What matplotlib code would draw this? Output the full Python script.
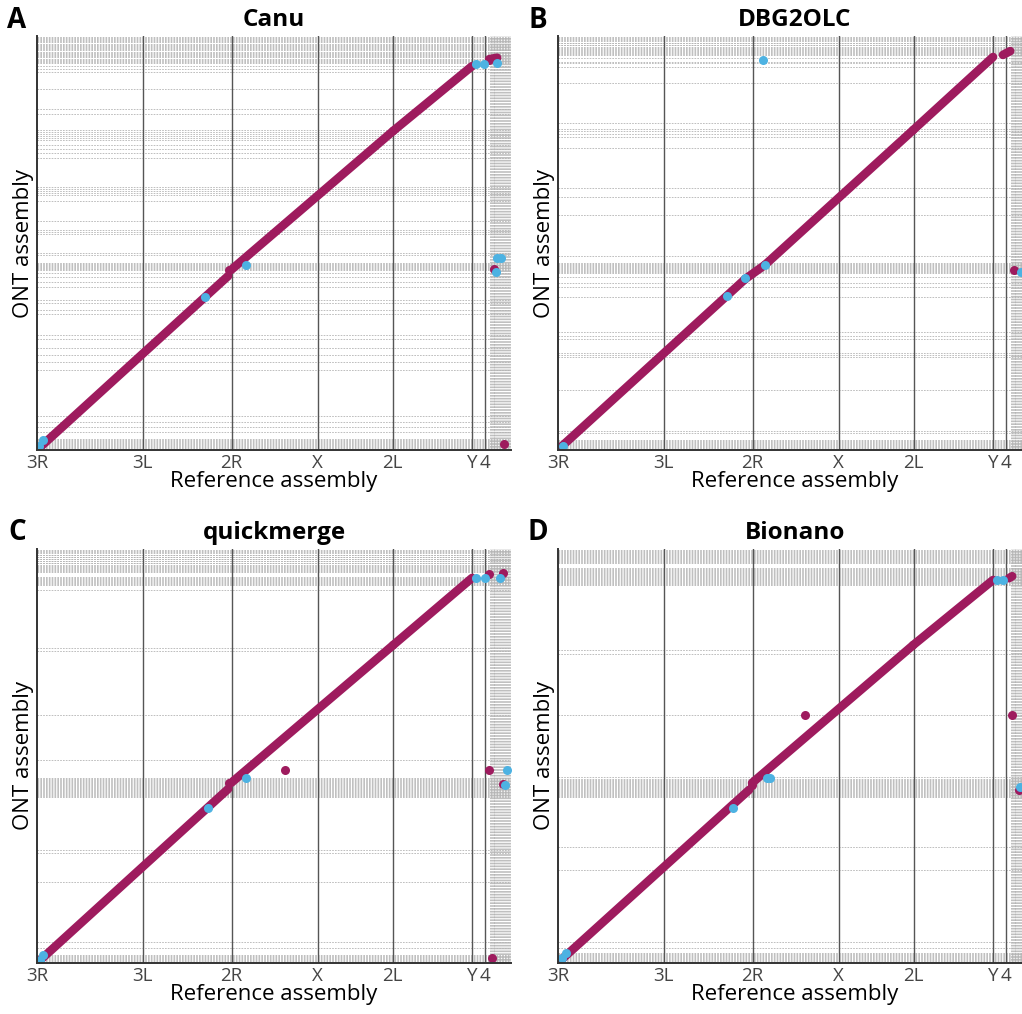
import matplotlib
matplotlib.use("Agg")
import matplotlib.pyplot as plt

plt.rcParams['font.family'] = ['Open Sans', 'DejaVu Sans']

# ---------------- data (Mb) ----------------
chrom_names = ["3R", "3L", "2R", "X", "2L", "Y", "4"]
chrom_lengths = [32.0, 27.0, 26.0, 22.8, 24.0, 3.8, 1.2]
ref_total = 143.6
# unplaced reference contig boundaries
ref_unplaced = [137.1, 137.4, 137.7, 138.0, 138.3, 138.6, 138.9, 139.2, 139.5, 139.8,
                140.1, 140.4, 140.7, 141.0, 141.3, 141.6, 141.9, 142.2, 142.5, 142.8,
                143.1, 143.4]

titles = ["Canu", "DBG2OLC", "quickmerge", "Bionano"]
letters = ["A", "B", "C", "D"]
asm_totals = [143.0, 140.0, 143.0, 143.0]

A_contigs = [134.0, 134.4, 134.8, 135.2, 135.6, 136.0, 136.4, 136.8, 137.2, 137.6, 138.0,
             138.4, 138.8, 139.2, 139.6, 140.0, 140.4, 140.8, 141.2, 141.6, 142.0, 142.4,
             142.8, 133.7, 132.6, 131.6, 130.6, 124.7, 117.8, 116.1, 110.5, 109.8, 109.2,
             108.5, 107.8, 107.1, 105.4, 104.0, 102.6, 100.9, 90.8, 90.2, 89.5, 88.8, 88.1,
             86.0, 79.1, 76.0, 75.3, 74.6, 68.1, 67.4, 64.6, 64.3, 64.0, 63.6, 63.3, 62.9,
             62.6, 62.2, 61.1, 59.8, 58.0, 56.3, 51.8, 50.8, 48.4, 47.0, 39.7, 38.3, 35.2,
             32.8, 30.4, 27.6, 11.7, 9.7, 7.9, 6.2, 3.8, 3.4, 3.1, 2.8, 2.4, 2.1, 1.7, 1.4,
             1.0, 0.7]
B_contigs = [133.6, 134.0, 134.3, 134.7, 135.0, 135.4, 135.7, 136.1, 136.4, 136.8, 137.1,
             137.5, 137.8, 138.2, 138.5, 138.9, 139.2, 139.6, 132.6, 131.2, 130.9, 129.5,
             124.1, 110.6, 108.6, 107.9, 106.9, 105.8, 102.1, 88.6, 85.6, 79.5, 65.6, 63.2,
             62.9, 62.5, 62.2, 61.9, 61.5, 61.2, 60.9, 60.5, 60.2, 59.9, 58.5, 56.5, 55.1,
             51.7, 39.9, 38.6, 37.5, 32.8, 32.1, 31.5, 20.3, 6.4, 5.7, 3.4, 3.0, 2.7, 2.4,
             2.0, 1.7, 1.4, 1.0, 0.7]
C_contigs = [130.6, 131.0, 131.3, 131.7, 132.0, 132.4, 132.7, 133.1, 133.4, 135.2, 135.5,
             135.9, 136.2, 136.6, 136.9, 137.3, 137.6, 138.0, 138.3, 138.7, 139.0, 139.4,
             139.7, 140.1, 140.4, 140.8, 141.1, 141.5, 141.8, 142.2, 142.5, 128.8, 108.8,
             107.8, 85.7, 70.1, 57.3, 57.6, 58.0, 58.3, 58.7, 59.0, 59.4, 59.7, 60.1, 60.4,
             60.8, 61.1, 61.5, 61.8, 62.2, 62.5, 62.9, 63.2, 63.6, 63.9, 39.0, 38.0, 28.0,
             7.3, 5.2, 0.3, 0.7, 1.0, 1.4, 1.7, 2.1, 2.4, 2.8]
D_contigs = [138.2, 138.6, 138.9, 139.3, 139.6, 140.0, 140.3, 140.7, 141.0, 141.4, 141.7,
             142.1, 142.4, 142.7, 130.6, 131.0, 131.3, 131.7, 132.0, 132.4, 132.7, 133.1,
             133.4, 133.8, 134.1, 134.5, 134.8, 135.2, 135.5, 135.9, 136.2, 136.6, 108.1,
             106.7, 85.7, 57.3, 57.6, 58.0, 58.3, 58.7, 59.0, 59.4, 59.7, 60.1, 60.4, 60.8,
             61.1, 61.5, 61.8, 62.2, 62.5, 62.9, 63.2, 63.6, 64.2, 40.1, 32.1, 7.3, 5.2,
             0.3, 0.7, 1.0, 1.4, 1.7, 2.1, 2.4, 2.8, 3.1, 3.5]

# forward alignments (ref start, asm start, ref end, asm end)
A_fwd = [(0.3, 0.3, 57.9, 60.1), (58.8, 62.2, 107.9, 110.2), (107.9, 110.2, 131.8, 132.6),
         (137.0, 135.0, 139.4, 135.5)]
B_fwd = [(0.6, 0.7, 56.7, 57.8), (56.7, 57.8, 62.7, 62.6), (62.7, 62.6, 107.6, 108.2),
         (107.6, 108.2, 131.8, 132.9), (134.8, 133.6, 137.0, 134.9)]
C_fwd = [(0.3, 0.3, 57.9, 60.1), (58.8, 62.2, 107.9, 109.8), (107.9, 109.8, 131.8, 133.0)]
D_fwd = [(0.6, 0.7, 57.9, 59.8), (58.8, 62.2, 107.6, 109.8), (107.6, 109.8, 131.8, 132.3),
         (136.6, 132.9, 137.6, 133.6)]

# isolated forward hits
A_mag_x = [58.2, 138.5, 141.5, 137.0]
A_mag_y = [62.2, 62.5, 2.1, 134.7]
B_mag_x = [138.2]
B_mag_y = [60.9]
C_mag_x = [58.2, 75.2, 137.0, 141.2, 137.0, 141.2, 137.9]
C_mag_y = [62.2, 66.7, 134.4, 134.7, 66.7, 61.8, 1.7]
D_mag_x = [58.8, 74.8, 137.6, 139.7]
D_mag_y = [61.5, 85.7, 85.7, 59.8]

# reverse hits
A_rev_x = [1.8, 0.6, 50.9, 63.3, 133.0, 135.5, 139.4, 139.4, 140.6, 139.1]
A_rev_y = [3.5, 1.4, 52.8, 63.9, 133.3, 133.3, 133.7, 66.3, 66.3, 61.5]
B_rev_x = [1.5, 51.2, 56.7, 62.7, 62.1, 140.3]
B_rev_y = [1.4, 52.1, 58.2, 62.6, 131.9, 60.2]
C_rev_x = [1.8, 0.9, 51.8, 63.3, 133.0, 135.8, 140.3, 142.4, 141.8]
C_rev_y = [2.8, 1.0, 53.5, 63.9, 133.0, 133.0, 133.0, 66.7, 61.5]
D_rev_x = [2.4, 1.2, 53.0, 63.3, 64.2, 133.0, 134.8, 140.0]
D_rev_y = [3.5, 1.7, 53.5, 63.9, 63.9, 132.3, 132.3, 60.8]

contigs = [A_contigs, B_contigs, C_contigs, D_contigs]
fwd = [A_fwd, B_fwd, C_fwd, D_fwd]
mag = [(A_mag_x, A_mag_y), (B_mag_x, B_mag_y), (C_mag_x, C_mag_y), (D_mag_x, D_mag_y)]
rev = [(A_rev_x, A_rev_y), (B_rev_x, B_rev_y), (C_rev_x, C_rev_y), (D_rev_x, D_rev_y)]

MAG = "#9E1B5E"
BLUE = "#4DB2E2"
GRID = "#b4b4b4"
W, H = 1022, 1014

fig = plt.figure(figsize=(W / 100, H / 100), dpi=100)

# axes pixel boxes: left, top, width, height
boxes = [(37, 36, 474, 414), (558, 36, 474, 414), (37, 549, 474, 414), (558, 549, 474, 414)]

starts = []
acc = 0.0
for L in chrom_lengths:
    starts.append(acc)
    acc += L

for i, (l, t, w, h) in enumerate(boxes):
    ax = fig.add_axes([l / W, 1 - (t + h) / H, w / W, h / H])
    ax.set_xlim(0, ref_total)
    ax.set_ylim(0, asm_totals[i])
    for s in ["top", "right"]:
        ax.spines[s].set_visible(False)
    for s in ["left", "bottom"]:
        ax.spines[s].set_color("#333333")
        ax.spines[s].set_linewidth(1.4)
        ax.spines[s].set_zorder(6)

    # assembly contig boundaries
    for yv in contigs[i]:
        ax.axhline(yv, color=GRID, lw=0.6, ls=(0, (2, 1.4)), zorder=1)
    # unplaced reference contigs
    for xv in ref_unplaced:
        ax.axvline(xv, color=GRID, lw=0.6, ls=(0, (2, 1.4)), zorder=1)
    # chromosome boundaries
    for xv in starts[1:]:
        ax.axvline(xv, color="#555555", lw=1.0, zorder=2)

    for (x0, y0, x1, y1) in fwd[i]:
        ax.plot([x0, x1], [y0, y1], color=MAG, lw=6.2, solid_capstyle="round", zorder=3)
    ax.plot(mag[i][0], mag[i][1], "o", color=MAG, ms=6.5, mec="none", zorder=4)
    ax.plot(rev[i][0], rev[i][1], "o", color=BLUE, ms=6.5, mec="none", zorder=5)

    ax.set_xticks(starts)
    ax.set_xticklabels(chrom_names, fontsize=13.5, color="#444444")
    ax.set_yticks([])
    ax.tick_params(axis="x", length=0, pad=3)
    ax.set_xlabel("Reference assembly", fontsize=16, labelpad=-1)
    ax.set_ylabel("ONT assembly", fontsize=16, labelpad=2)

    # title and panel letter
    cx = (l + w / 2) / W
    ty = 1 - (t - 16) / H
    fig.text(cx, ty, titles[i], ha="center", va="center", fontsize=17.5, fontweight="bold")
    fig.text((l - 20) / W, ty, letters[i], ha="center", va="center", fontsize=20,
             fontweight="bold")

fig.savefig("out.png", dpi=100)
